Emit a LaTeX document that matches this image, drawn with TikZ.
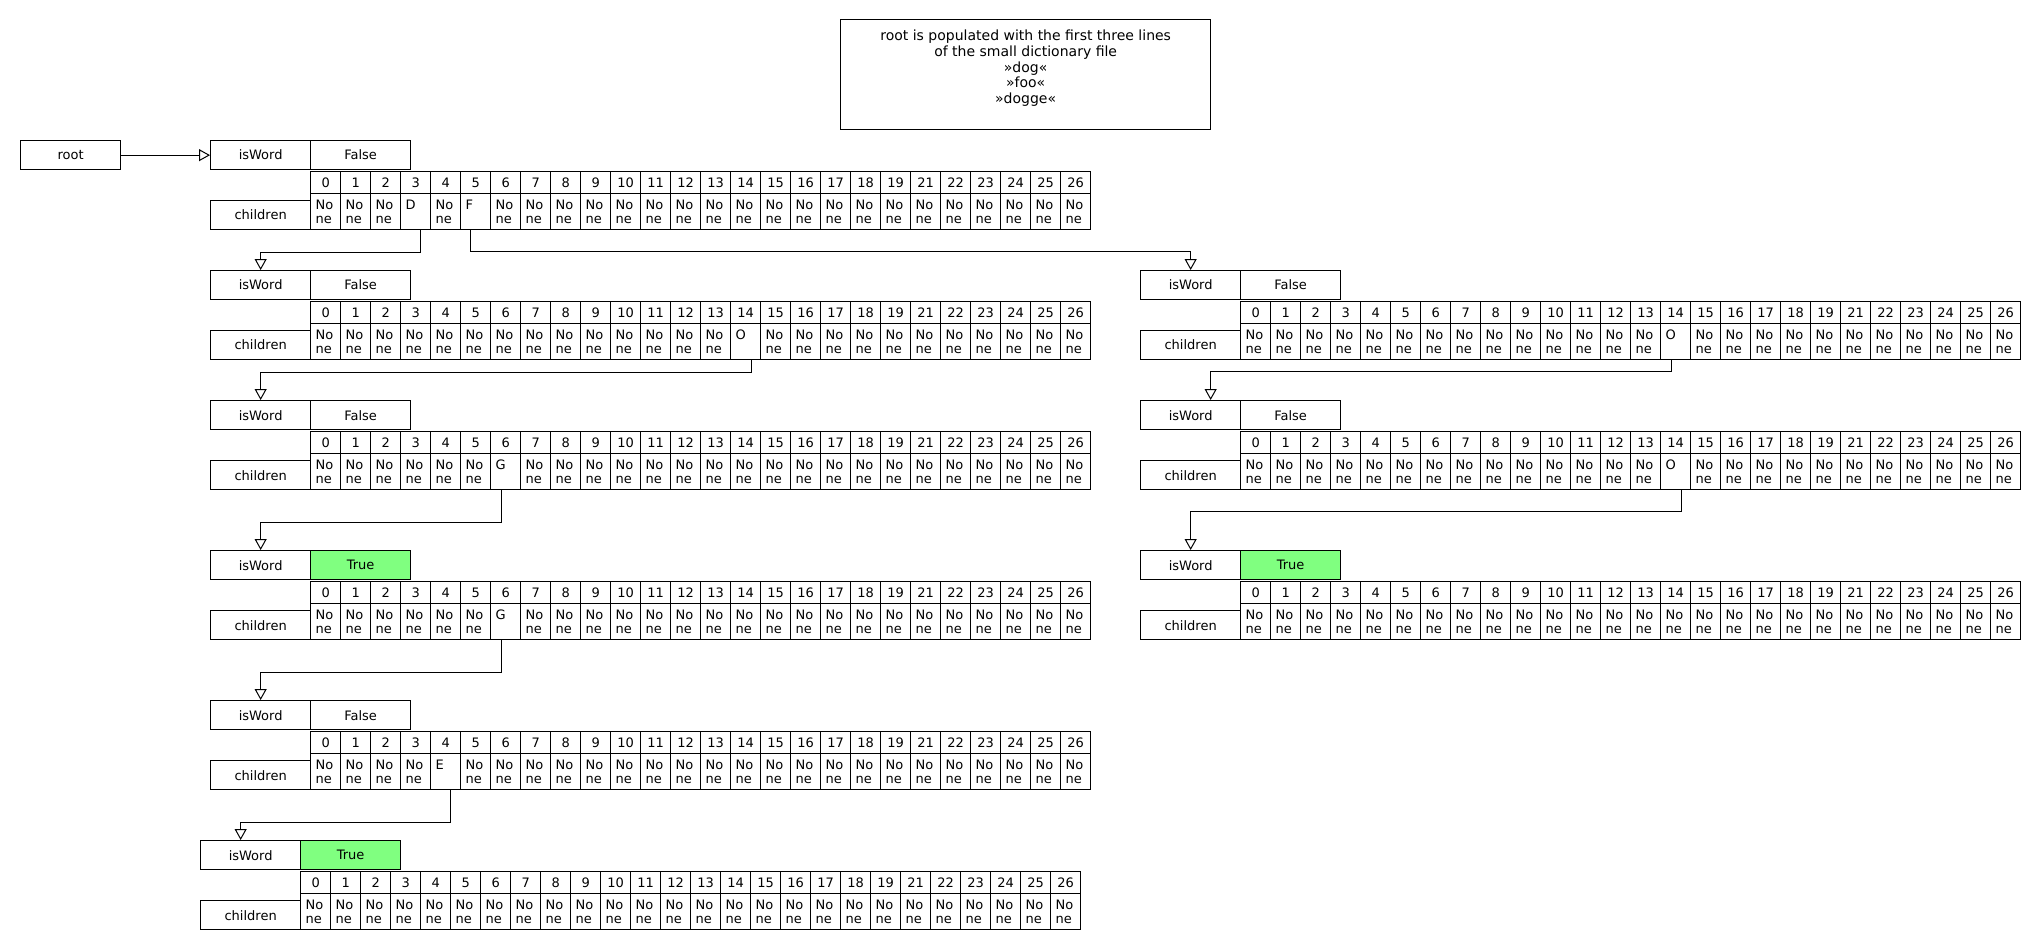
\documentclass[tikz,border=0pt]{standalone}
\usepackage{fontspec}
\setmainfont{DejaVu Sans}
\usetikzlibrary{arrows.meta}

\definecolor{wordgreen}{HTML}{80FF80}

% one trie node: name, x, y, flag (True/False), letters as index/letter
\newcommand\trienode[5]{%
  \foreach \k/\l in {#5} {\expandafter\xdef\csname cl-#1-\k\endcsname{\l}}
  \node[flagbox] (#1-w) at (#2,#3) {isWord};
  \node[flagbox, is#4] (#1-f) at (#2+100,#3) {#4};
  \node[flagbox] (#1-c) at (#2,#3+60) {children};
  \foreach \k in {0,...,25} {
    \pgfmathtruncatemacro\lab{\k<20 ? \k : \k+1}
    \node[idxbox] (#1-i\k) at (#2+100+30*\k,#3+31) {\lab};
    \ifcsname cl-#1-\k\endcsname
      \node[valbox] (#1-v\k) at (#2+100+30*\k,#3+53)
        {\csname cl-#1-\k\endcsname\\\phantom{ne}};
    \else
      \node[valbox] (#1-v\k) at (#2+100+30*\k,#3+53) {No\\ne};
    \fi
  }
}

\begin{document}
\begin{tikzpicture}[x=1pt, y=-1pt,
  box/.style={draw, line width=1.3pt, rectangle, inner sep=0pt, anchor=north west,
    font=\fontsize{13}{13.5}\selectfont},
  flagbox/.style={box, minimum width=100, minimum height=29},
  isTrue/.style={fill=wordgreen},
  isFalse/.style={},
  idxbox/.style={box, minimum width=30, minimum height=22},
  valbox/.style={box, minimum width=30, minimum height=36, text width=20pt,
    inner xsep=5pt, align=left},
  link/.style={line width=1pt, -{Triangle[open, length=11pt, width=12pt]}}]
  \useasboundingbox (0,0) rectangle (2040,950);

  % note
  \node[box, minimum width=370, minimum height=110, align=center,
    font=\fontsize{14}{15.6}\selectfont] (note) at (840,19)
    {root is populated with the first three lines\\of the small dictionary file\\
     »dog«\\»foo«\\»dogge«\\~};

  \node[flagbox] (root) at (20,140) {root};

  % left column
  \trienode{r1}{210}{140}{False}{3/D,5/F}
  \trienode{l2}{210}{270}{False}{14/O}
  \trienode{l3}{210}{400}{False}{6/G}
  \trienode{l4}{210}{550}{True}{6/G}
  \trienode{l5}{210}{700}{False}{4/E}
  \trienode{l6}{200}{840}{True}{-1/x}

  % right column
  \trienode{rA}{1140}{270}{False}{14/O}
  \trienode{rB}{1140}{400}{False}{14/O}
  \trienode{rC}{1140}{550}{True}{-1/x}

  % links
  \draw[link] (root) -- (r1-w);
  \draw[link] ([xshift=5pt]r1-v3.south) -- ++(0,22) -| (l2-w.north);
  \draw[link] ([xshift=-5pt]r1-v5.south) -- ++(0,21) -| (rA-w.north);
  \draw[link] ([xshift=6pt]l2-v14.south) -- ++(0,12) -| (l3-w.north);
  \draw[link] ([xshift=-4pt]rA-v14.south) -- ++(0,11) -| ([xshift=20pt]rB-w.north);
  \draw[link] ([xshift=-4pt]l3-v6.south) -- ++(0,32) -| (l4-w.north);
  \draw[link] ([xshift=6pt]rB-v14.south) -- ++(0,21) -| (rC-w.north);
  \draw[link] ([xshift=-4pt]l4-v6.south) -- ++(0,32) -| (l5-w.north);
  \draw[link] ([xshift=5pt]l5-v4.south) -- ++(0,32) -| ([xshift=-10pt]l6-w.north);
\end{tikzpicture}
\end{document}
